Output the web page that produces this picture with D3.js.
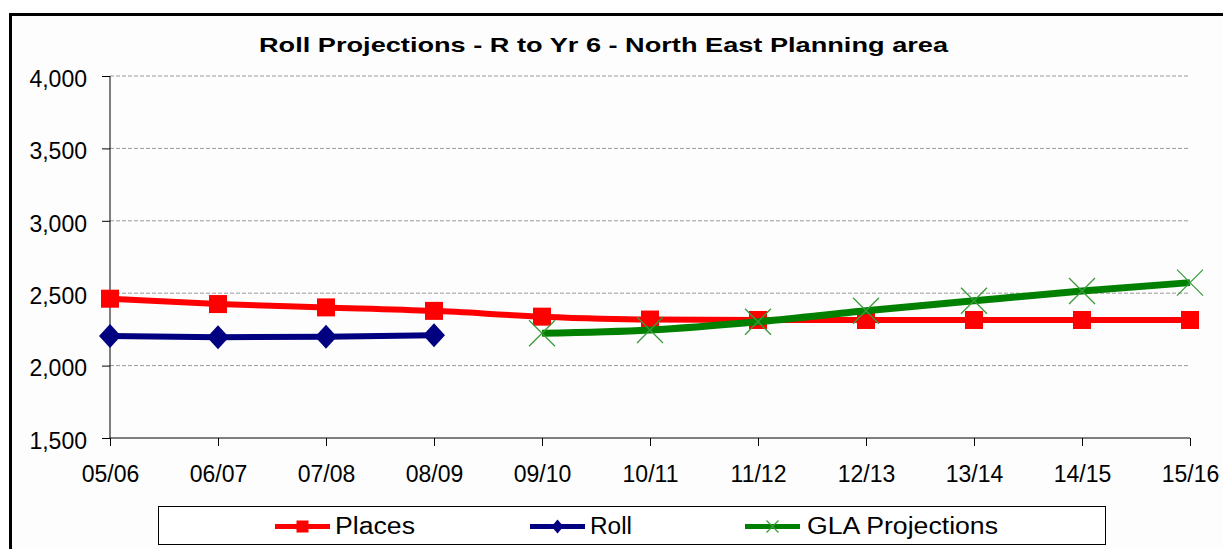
<!DOCTYPE html>
<html><head><meta charset="utf-8">
<script src="https://cdn.jsdelivr.net/npm/d3@7"></script>
<style>html,body{margin:0;padding:0;background:#fff;}svg{display:block;font-family:"Liberation Sans",Arial,sans-serif;}</style>
</head><body>
<svg id="chart" width="1223" height="549"></svg>
<script>
const categories = ["05/06","06/07","07/08","08/09","09/10","10/11","11/12","12/13","13/14","14/15","15/16"];
const places = [2462, 2425, 2402, 2378, 2338, 2318, 2315, 2315, 2315, 2315, 2315];
const roll = [2205, 2196, 2200, 2210, null, null, null, null, null, null, null];
const gla = [null, null, null, null, 2223, 2246, 2303, 2379, 2448, 2515, 2573];
const yTicks = [1500, 2000, 2500, 3000, 3500, 4000];
const title = "Roll Projections - R to Yr 6 - North East Planning area";
const seriesNames = ["Places", "Roll", "GLA Projections"];

(function(){
const FONT = "Liberation Sans, Arial, sans-serif";
const svg = d3.select("#chart");
svg.append("rect").attr("x",0).attr("y",0).attr("width",1223).attr("height",549).attr("fill","#fff");
svg.append("rect").attr("x",10.5).attr("y",14.5).attr("width",1300).attr("height",600)
  .attr("fill","#fdfdfd").attr("stroke","#000").attr("stroke-width",3);

const pl = 110, pr = 1190, pt = 76, pb = 438;
const x = d3.scalePoint().domain(categories).range([pl, pr]);
const y = d3.scaleLinear().domain([1500, 4000]).range([pb, pt]);

// gridlines
svg.append("g").selectAll("line").data(yTicks.filter(t => t > 1500)).join("line")
  .attr("x1", pl).attr("x2", pr).attr("y1", d => y(d)).attr("y2", d => y(d))
  .attr("stroke", "#999").attr("stroke-width", 1).attr("stroke-dasharray", "4,2");

// axes
const yAxis = d3.axisLeft(y).tickValues(yTicks).tickFormat(d3.format(",")).tickSize(8).tickPadding(15);
const gy = svg.append("g").attr("transform", `translate(${pl},0)`).call(yAxis);
gy.select(".domain").attr("stroke","#000").attr("d", `M0,${pt}V${pb}`);
gy.selectAll("text").attr("font-size", 23).attr("fill","#000").attr("font-family",FONT).attr("dy","0.45em");
gy.selectAll(".tick line").attr("stroke","#000");

const xAxis = d3.axisBottom(x).tickSize(8).tickPadding(20);
const gx = svg.append("g").attr("transform", `translate(0,${pb})`).call(xAxis);
gx.select(".domain").attr("stroke","#000").attr("d", `M${pl},0H${pr}`);
gx.selectAll("text").attr("font-size", 23).attr("fill","#000").attr("font-family",FONT);
gx.selectAll(".tick line").attr("stroke","#000");

// title
svg.append("text").attr("x", 259).attr("y", 52)
  .attr("font-size", 21).attr("font-weight","bold").attr("font-family",FONT)
  .attr("textLength", 689).attr("lengthAdjust","spacingAndGlyphs").text(title);

function series(vals) { return categories.map((c,i)=>({c, v: vals[i]})).filter(d => d.v != null); }

// Places
const pData = series(places);
svg.append("path").datum(pData).attr("fill","none").attr("stroke","#f00").attr("stroke-width",6)
  .attr("d", d3.line().x(d=>x(d.c)).y(d=>y(d.v)).curve(d3.curveMonotoneX));
svg.append("g").selectAll("rect").data(pData).join("rect")
  .attr("x", d=>x(d.c)-9).attr("y", d=>y(d.v)-9).attr("width",18).attr("height",18).attr("fill","#f00");

// Roll
const rData = series(roll);
svg.append("path").datum(rData).attr("fill","none").attr("stroke","#000080").attr("stroke-width",6)
  .attr("d", d3.line().x(d=>x(d.c)).y(d=>y(d.v)));
svg.append("g").selectAll("path").data(rData).join("path")
  .attr("d", d=>`M${x(d.c)-11},${y(d.v)}L${x(d.c)},${y(d.v)-12}L${x(d.c)+11},${y(d.v)}L${x(d.c)},${y(d.v)+12}Z`)
  .attr("fill","#000080");

// GLA
const gData = series(gla);
svg.append("path").datum(gData).attr("fill","none").attr("stroke","#008000").attr("stroke-width",7)
  .attr("d", d3.line().x(d=>x(d.c)).y(d=>y(d.v)).curve(d3.curveMonotoneX));
svg.append("g").selectAll("path").data(gData).join("path")
  .attr("d", d=>`M${x(d.c)-13},${y(d.v)-13}L${x(d.c)+13},${y(d.v)+13}M${x(d.c)-13},${y(d.v)+13}L${x(d.c)+13},${y(d.v)-13}`)
  .attr("stroke","#3a9a3a").attr("stroke-width",1.3).attr("fill","none");

// legend
svg.append("rect").attr("x",158.5).attr("y",506.5).attr("width",947).attr("height",38)
  .attr("fill","#fff").attr("stroke","#000").attr("stroke-width",1);
const legendItems = [
  {name: seriesNames[0], x0: 275, tx: 335, tl: 80, color: "#f00", marker: "square"},
  {name: seriesNames[1], x0: 530, tx: 590, tl: 42, color: "#000080", marker: "diamond"},
  {name: seriesNames[2], x0: 745, tx: 807, tl: 191, color: "#008000", marker: "x"}
];
const ly = 526.5;
const lg = svg.append("g").selectAll("g").data(legendItems).join("g");
lg.append("line").attr("x1", d=>d.x0).attr("x2", d=>d.x0+55).attr("y1", ly).attr("y2", ly)
  .attr("stroke", d=>d.color).attr("stroke-width", 5);
lg.filter(d=>d.marker==="square").append("rect").attr("x", d=>d.x0+27.5-6).attr("y", ly-6).attr("width",12).attr("height",12).attr("fill","#f00");
lg.filter(d=>d.marker==="diamond").append("path").attr("d", d=>`M${d.x0+27.5-6},${ly}L${d.x0+27.5},${ly-7}L${d.x0+27.5+6},${ly}L${d.x0+27.5},${ly+7}Z`).attr("fill","#000080");
lg.filter(d=>d.marker==="x").append("path").attr("d", d=>`M${d.x0+27.5-6},${ly-6}L${d.x0+27.5+6},${ly+6}M${d.x0+27.5-6},${ly+6}L${d.x0+27.5+6},${ly-6}`).attr("stroke","#3a9a3a").attr("stroke-width",1.2);
lg.append("text").attr("x", d=>d.tx).attr("y", 533.5).attr("font-size", 23).attr("font-family",FONT)
  .attr("textLength", d=>d.tl).attr("lengthAdjust","spacingAndGlyphs").text(d=>d.name);
})();
</script>
</body></html>
